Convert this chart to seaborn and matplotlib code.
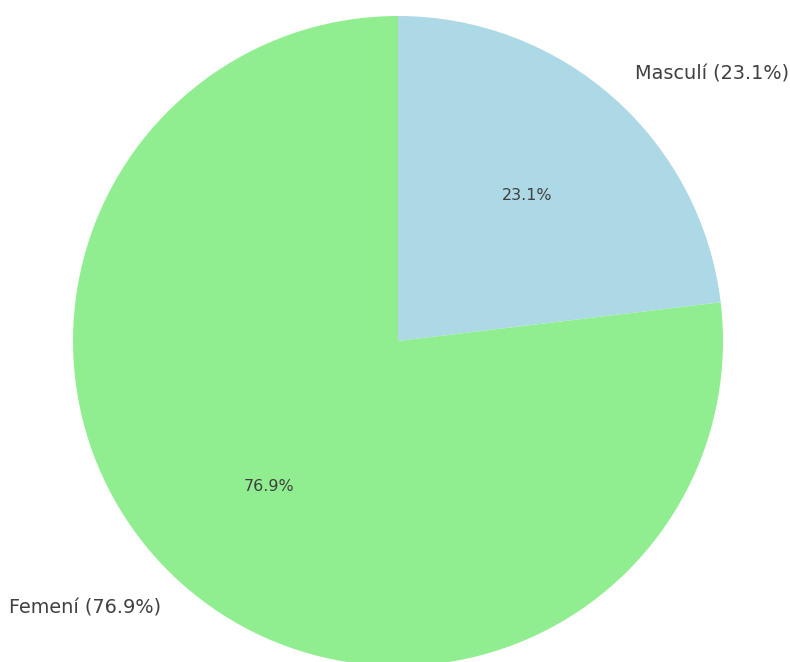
import matplotlib
matplotlib.use("Agg")
import matplotlib.pyplot as plt
import seaborn as sns

sns.set_theme(style="white")
plt.rcParams['font.family'] = ['DejaVu Sans']

categories = ["Masculí", "Femení"]
percentages = [23.1, 76.9]
colors = ["lightblue", "lightgreen"]
labels = [f"{c} ({p}%)" for c, p in zip(categories, percentages)]

fig = plt.figure(figsize=(7.9, 6.62), dpi=100)
ax = fig.add_axes([0, 0, 1, 1])
wedges, texts, autotexts = ax.pie(
    percentages, labels=labels, colors=colors, autopct="%1.1f%%",
    startangle=90, counterclock=False, labeldistance=1.1, pctdistance=0.6,
    textprops={"color": "#404040"},
    wedgeprops={"linewidth": 0, "edgecolor": "none"},
)
for t in texts:
    t.set_fontsize(13.9)
for t in autotexts:
    t.set_fontsize(11.4)
ax.set_aspect("auto")
ax.set_xlim(-398 / 325, (790 - 398) / 325)
ax.set_ylim(-(662 - 341) / 325, 341 / 325)
ax.axis("off")
fig.savefig("out.png", dpi=100)
